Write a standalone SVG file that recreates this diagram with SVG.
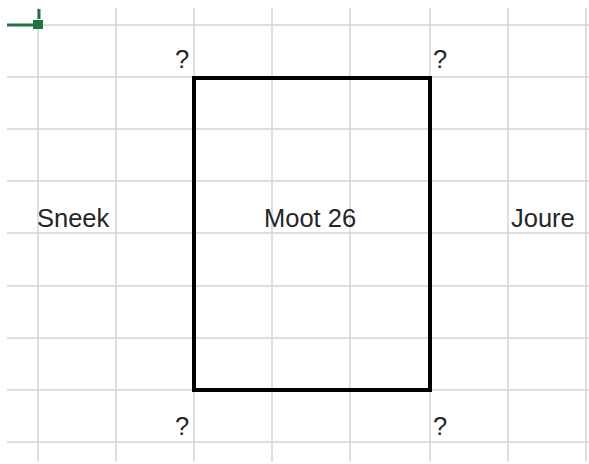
<svg xmlns="http://www.w3.org/2000/svg" width="589" height="464" viewBox="0 0 589 464">
<style>
.g{stroke:#d4d4d4;stroke-width:1.5;fill:none}
.t{font-family:"Liberation Sans",Arial,sans-serif;font-size:25.5px;fill:#262626}
.box{fill:none;stroke:#000;stroke-width:4}
</style>
<rect width="589" height="464" fill="#fff"/>
<g id="grid">
<line class="g" x1="38" y1="8" x2="38" y2="462"/>
<line class="g" x1="116" y1="8" x2="116" y2="462"/>
<line class="g" x1="194" y1="8" x2="194" y2="462"/>
<line class="g" x1="272" y1="8" x2="272" y2="462"/>
<line class="g" x1="350" y1="8" x2="350" y2="462"/>
<line class="g" x1="430" y1="8" x2="430" y2="462"/>
<line class="g" x1="508" y1="8" x2="508" y2="462"/>
<line class="g" x1="586" y1="8" x2="586" y2="462"/>
<line class="g" x1="7" y1="25" x2="589" y2="25"/>
<line class="g" x1="7" y1="77" x2="589" y2="77"/>
<line class="g" x1="7" y1="129" x2="589" y2="129"/>
<line class="g" x1="7" y1="181" x2="589" y2="181"/>
<line class="g" x1="7" y1="233" x2="589" y2="233"/>
<line class="g" x1="7" y1="286" x2="589" y2="286"/>
<line class="g" x1="7" y1="338" x2="589" y2="338"/>
<line class="g" x1="7" y1="390" x2="589" y2="390"/>
<line class="g" x1="7" y1="442" x2="589" y2="442"/>
</g>
<g id="cursor" fill="#217346" stroke="#217346">
<line x1="7" y1="25" x2="34" y2="25" stroke-width="3"/>
<line x1="39" y1="9" x2="39" y2="19" stroke-width="3"/>
<rect x="33" y="20" width="10" height="9" stroke="none"/>
</g>
<g id="moot26">
<rect class="box" x="194" y="78" width="236" height="312"/>
<text class="t" x="264" y="227">Moot 26</text>
</g>
<g id="sneek"><text class="t" x="37" y="227">Sneek</text></g>
<g id="joure"><text class="t" x="511" y="227">Joure</text></g>
<g id="q-tl"><text class="t" x="175" y="68">?</text></g>
<g id="q-tr"><text class="t" x="433" y="68">?</text></g>
<g id="q-bl"><text class="t" x="175" y="435">?</text></g>
<g id="q-br"><text class="t" x="433" y="435">?</text></g>
<g id="connectors"/>
</svg>
